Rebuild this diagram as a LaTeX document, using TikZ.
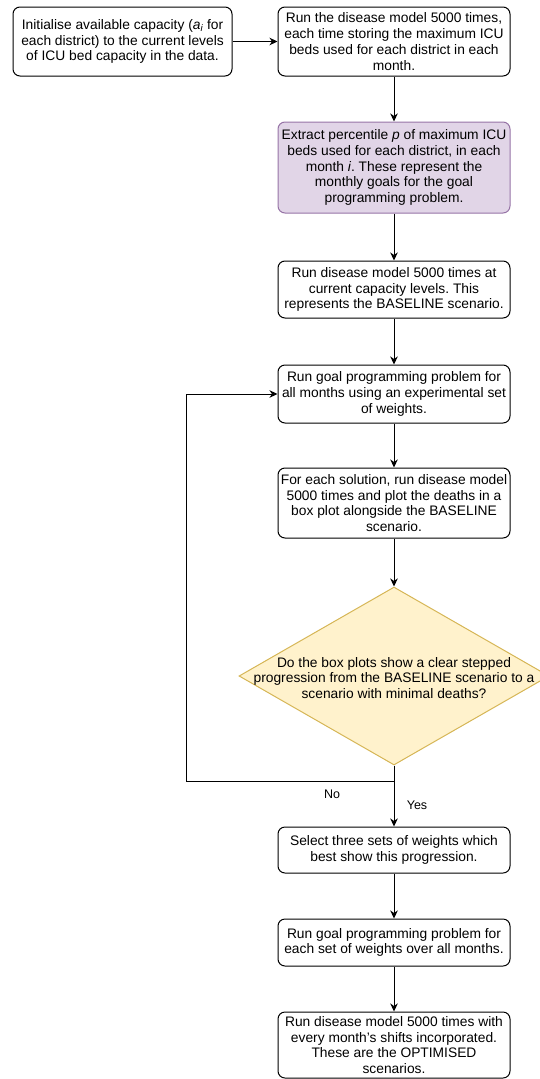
\documentclass[tikz,border=0pt]{standalone}
\usepackage{fontspec}
\setmainfont{Liberation Sans}
\usetikzlibrary{shapes.geometric,arrows.meta}
\definecolor{goalfill}{HTML}{E1D5E7}
\definecolor{goalline}{HTML}{9673A6}
\definecolor{askfill}{HTML}{FFF2CC}
\definecolor{askline}{HTML}{D6B656}
\frenchspacing
\begin{document}
\begin{tikzpicture}[x=1pt,y=-1pt,line width=1pt,
  >={Stealth[length=8pt,width=7.5pt,inset=2.5pt]},
  stepbox/.style={draw,rounded corners=7pt,align=center,inner sep=1pt,
    font=\fontsize{13.8}{15.8}\selectfont,minimum width=232pt},
  goalbox/.style={stepbox,fill=goalfill,draw=goalline},
  decision/.style={diamond,draw=askline,fill=askfill,inner sep=0pt,
    minimum width=310pt,minimum height=178pt},
  edgelabel/.style={font=\fontsize{12.5}{14}\selectfont}]
\useasboundingbox (0,0) rectangle (539,1079);
\node[stepbox,minimum width=219pt,minimum height=69pt] (init) at (122.5,41.5)
  {Initialise available capacity ({\itshape a\textsubscript{i}} for\\each district) to the current levels\\of ICU bed capacity in the data.};
\node[stepbox,minimum height=69pt] (runmodel) at (394,41.5)
  {Run the disease model 5000 times,\\each time storing the maximum ICU\\beds used for each district in each\\month.};
\node[goalbox,minimum height=91pt] (extract) at (394,167.5)
  {Extract percentile \textit{p} of maximum ICU\\beds used for each district, in each\\month \textit{i}. These represent the\\monthly goals for the goal\\programming problem.};
\node[stepbox,minimum height=57pt] (baseline) at (394,289.5)
  {Run disease model 5000 times at\\current capacity levels. This\\represents the BASELINE scenario.};
\node[stepbox,minimum height=58pt] (goalprog) at (394,394)
  {Run goal programming problem for\\all months using an experimental set\\of weights.};
\node[stepbox,minimum height=70pt] (boxplot) at (394,503)
  {For each solution, run disease model\\5000 times and plot the deaths in a\\box plot alongside the BASELINE\\scenario.};
\node[decision] (check) at (394,676) {};
\node[font=\fontsize{13.8}{15.8}\selectfont,align=center] (checktext) at (394,678)
  {Do the box plots show a clear stepped\\progression from the BASELINE scenario to a\\scenario with minimal deaths?};
\node[stepbox,minimum height=46pt] (select) at (394,850)
  {Select three sets of weights which\\best show this progression.};
\node[stepbox,minimum height=47pt] (rungoal) at (394,942.5)
  {Run goal programming problem for\\each set of weights over all months.};
\node[stepbox,minimum height=66pt] (optimised) at (394,1045)
  {Run disease model 5000 times with\\every month's shifts incorporated.\\These are the OPTIMISED\\scenarios.};
\coordinate (loopcorner) at (186,781);
\draw (init) -- (runmodel) [->];
\draw (runmodel) -- (extract) [->];
\draw (extract) -- (baseline) [->];
\draw (baseline) -- (goalprog) [->];
\draw (goalprog) -- (boxplot) [->];
\draw (boxplot) -- (check) [->];
\draw (check.south) |- (loopcorner) |- (goalprog.west) [->];
\draw (check.south) -- (select) [->];
\draw (select) -- (rungoal) [->];
\draw (rungoal) -- (optimised) [->];
\node[edgelabel] (nolabel) at (332,794) {No};
\node[edgelabel] (yeslabel) at (417,805) {Yes};
\end{tikzpicture}
\end{document}
